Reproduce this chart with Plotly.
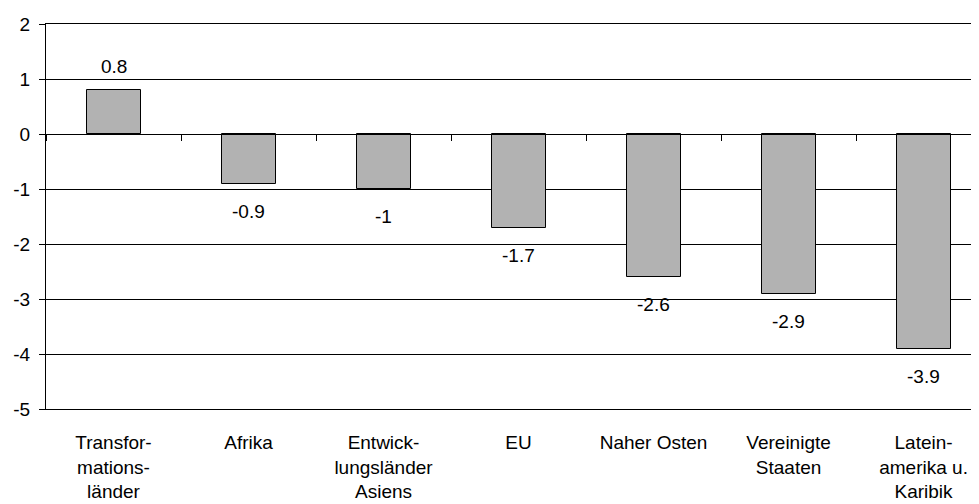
import plotly.graph_objects as go

categories = ["Transfor-<br>mations-<br>länder", "Afrika", "Entwick-<br>lungsländer<br>Asiens", "EU",
              "Naher Osten", "Vereinigte<br>Staaten", "Latein-<br>amerika u.<br>Karibik"]
values = [0.8, -0.9, -1.0, -1.7, -2.6, -2.9, -3.9]
y_ticks = [-5, -4, -3, -2, -1, 0, 1, 2]
y_tick_labels = ["-5", "-4", "-3", "-2", "-1", "0", "1", "2"]

FONT = dict(family="Arial, Liberation Sans, sans-serif", size=19, color="black")

fig = go.Figure()
fig.add_trace(go.Bar(
    x=categories, y=values, width=0.4,
    marker=dict(color="#B2B2B2", line=dict(color="black", width=1)),
    xaxis="x", yaxis="y", hoverinfo="x+y",
))
# invisible trace so the zero-line category axis has its categories
fig.add_trace(go.Scatter(
    x=categories, y=[0] * len(categories), mode="markers",
    marker=dict(opacity=0), xaxis="x2", yaxis="y", hoverinfo="skip", showlegend=False,
))

for c, v in zip(categories, values):
    fig.add_annotation(
        x=c, y=v, text=f"{v:g}", showarrow=False, xref="x", yref="y",
        yanchor="bottom" if v >= 0 else "top",
        yshift=11 if v >= 0 else -15,
        font=FONT,
    )

xr = [-0.5, 6.470]
fig.update_layout(
    width=979, height=504,
    margin=dict(l=38, r=0, t=16, b=103, autoexpand=False),
    paper_bgcolor="white", plot_bgcolor="white",
    showlegend=False, font=FONT, bargap=0,
    xaxis=dict(type="category", categoryorder="array", categoryarray=categories,
               range=xr, showgrid=False, zeroline=False, showline=True, mirror=True,
               linecolor="black", linewidth=1, ticks="", tickfont=FONT,
               ticklabelstandoff=16, automargin=False),
    xaxis2=dict(type="category", categoryorder="array", categoryarray=categories,
                range=xr, overlaying="x", anchor="free", position=5 / 7, side="bottom",
                showgrid=False, zeroline=False, showline=True, linecolor="black", linewidth=1,
                ticks="outside", tickson="boundaries", ticklen=6, tickcolor="black",
                tickwidth=1, showticklabels=False, automargin=False),
    yaxis=dict(range=[-5, 2], tickvals=y_ticks, ticktext=y_tick_labels, showgrid=True,
               gridcolor="black", gridwidth=1, zeroline=False, showline=True,
               linecolor="black", linewidth=1, ticks="outside", ticklen=6,
               tickcolor="black", tickfont=FONT, ticklabelstandoff=5, automargin=False),
)

fig.write_html("out.html")
